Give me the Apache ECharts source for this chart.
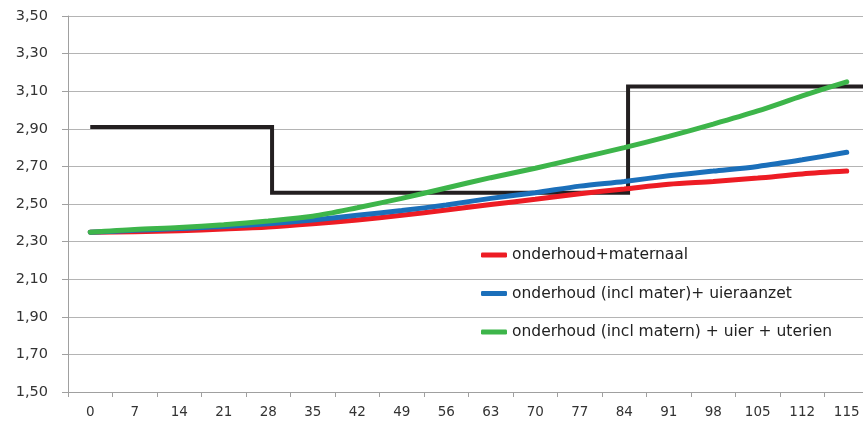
<!DOCTYPE html>
<html>
<head>
<meta charset="utf-8">
<script src="https://cdn.jsdelivr.net/npm/echarts@6/dist/echarts.min.js"></script>
<style>
html,body{margin:0;padding:0;background:#fff;}
#chart{width:863px;height:425px;}
</style>
</head>
<body>
<div id="chart"></div>
<script>
// Categories (days)
const days = ['0','7','14','21','28','35','42','49','56','63','70','77','84','91','98','105','112','115'];

// Series values
const redName = 'onderhoud+maternaal';
const redVals = [2.35,2.352,2.358,2.367,2.378,2.395,2.415,2.44,2.468,2.497,2.525,2.555,2.58,2.605,2.62,2.638,2.66,2.675];

const blueName = 'onderhoud (incl mater)+ uieraanzet';
const blueVals = [2.35,2.36,2.37,2.38,2.395,2.415,2.44,2.465,2.495,2.53,2.56,2.595,2.62,2.65,2.675,2.70,2.735,2.775];

const greenName = 'onderhoud (incl matern) + uier + uterien';
const greenVals = [2.35,2.365,2.375,2.39,2.41,2.435,2.48,2.53,2.585,2.64,2.69,2.745,2.80,2.86,2.925,2.995,3.075,3.15];

// Step line (day positions, values)
const stepDays = [0, 28.6, 28.6, 84.6, 84.6, 122.5];
const stepVals = [2.91, 2.91, 2.56, 2.56, 3.125, 3.125];

// Y axis ticks
const yMin = 1.5, yMax = 3.5, yStep = 0.2;
// Hidden day axis spanning the category band edges
const dayMin = -3.5, dayMax = 122.5;

const FONT = 'DejaVu Sans';
const chart = echarts.init(document.getElementById('chart'));
chart.setOption({
  animation: false,
  backgroundColor: '#ffffff',
  grid: {left: 68, right: -6, top: 16, bottom: 33, outerBoundsMode: 'none', containLabel: false},
  legend: {
    orient: 'vertical',
    left: 481, top: 247,
    padding: 0,
    itemGap: 22.5,
    itemWidth: 26, itemHeight: 5,
    icon: 'roundRect',
    data: [redName, blueName, greenName],
    textStyle: {fontFamily: FONT, fontSize: 15.5, color: '#222'}
  },
  xAxis: [{
    type: 'category',
    data: days,
    boundaryGap: true,
    axisLine: {onZero: false, lineStyle: {color: '#a0a0a0', width: 1}},
    axisTick: {show: true, length: 5, lineStyle: {color: '#a0a0a0'}},
    axisLabel: {fontFamily: FONT, fontSize: 13.5, color: '#333', margin: 13, interval: 0},
    splitLine: {show: false}
  }, {
    type: 'value',
    min: dayMin, max: dayMax,
    show: false,
    position: 'top',
    axisLine: {onZero: false},
    splitLine: {show: false}
  }],
  yAxis: {
    type: 'value',
    min: yMin, max: yMax, interval: yStep,
    axisLine: {show: true, onZero: false, lineStyle: {color: '#a0a0a0', width: 1}},
    axisTick: {show: true, length: 6, lineStyle: {color: '#a0a0a0'}},
    axisLabel: {fontFamily: FONT, fontSize: 14.5, color: '#333', margin: 20,
      formatter: v => v.toFixed(2).replace('.', ',')},
    splitLine: {show: true, lineStyle: {color: '#b4b4b4', width: 1}}
  },
  series: [{
    name: 'step',
    type: 'line',
    xAxisIndex: 1,
    data: stepDays.map((d, i) => [d, stepVals[i]]),
    showSymbol: false,
    lineStyle: {color: '#231f20', width: 4, join: 'miter', cap: 'butt'},
    itemStyle: {color: '#231f20'},
    silent: true
  }, {
    name: redName, type: 'line', data: redVals, smooth: 0.3, showSymbol: false,
    lineStyle: {color: '#ed1c24', width: 5, cap: 'round'}, itemStyle: {color: '#ed1c24'}
  }, {
    name: blueName, type: 'line', data: blueVals, smooth: 0.3, showSymbol: false,
    lineStyle: {color: '#1b6fba', width: 5, cap: 'round'}, itemStyle: {color: '#1b6fba'}
  }, {
    name: greenName, type: 'line', data: greenVals, smooth: 0.3, showSymbol: false,
    lineStyle: {color: '#3db54a', width: 5, cap: 'round'}, itemStyle: {color: '#3db54a'}
  }]
});
</script>
</body>
</html>
